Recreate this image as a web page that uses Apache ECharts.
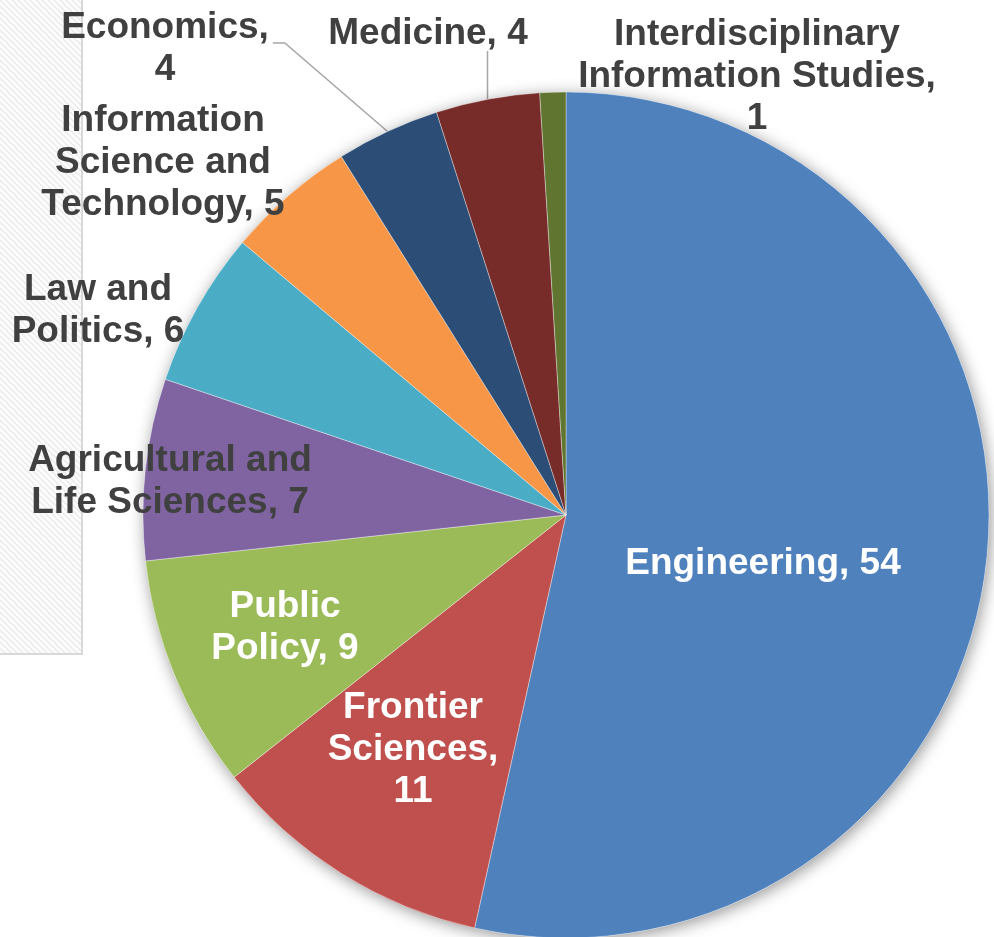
<!DOCTYPE html>
<html>
<head>
<meta charset="utf-8">
<script src="https://cdn.jsdelivr.net/npm/echarts@6/dist/echarts.min.js"></script>
<style>
  html, body { margin: 0; padding: 0; background: #fff; }
  #main { width: 994px; height: 937px; }
</style>
</head>
<body>
<div id="main"></div>
<script>
// ---- data ----
const categories = ['Engineering', 'Frontier Sciences', 'Public Policy', 'Agricultural and Life Sciences',
  'Law and Politics', 'Information Science and Technology', 'Economics', 'Medicine',
  'Interdisciplinary Information Studies'];
const values = [54, 11, 9, 7, 6, 5, 4, 4, 1];
const colors = ['#4F81BD', '#C0504D', '#9BBB59', '#8064A2', '#4BACC6', '#F79646', '#2C4D75', '#772C2A', '#5F7530'];
// label text wrapping as shown in the picture
const wrappedNames = ['Engineering', 'Frontier\nSciences', 'Public\nPolicy', 'Agricultural and\nLife Sciences',
  'Law and\nPolitics', 'Information\nScience and\nTechnology', 'Economics', 'Medicine',
  'Interdisciplinary\nInformation Studies'];
const valueSep = [' ', '\n', ' ', ' ', ' ', ' ', '\n', ' ', '\n'];
const insideLabel = [true, true, true, false, false, false, false, false, false];

// ---- layout (label placement) ----
const labelCenters = [[763, 564], [413, 750], [285, 628], [170, 482], [98, 311], [163, 163], [165, 49], [428, 34], [757, 77]];
const leaderType = [null, null, null, null, null, null, 'elbow', 'vertical', null];

// hatch pattern for background panel
const tile = document.createElement('canvas');
tile.width = 6; tile.height = 6;
(function () {
  const ctx = tile.getContext('2d');
  ctx.fillStyle = '#fdfdfd';
  ctx.fillRect(0, 0, 6, 6);
  ctx.strokeStyle = '#ececec';
  ctx.lineWidth = 1.6;
  ctx.beginPath();
  ctx.moveTo(-3, -3); ctx.lineTo(9, 9);
  ctx.moveTo(-3, 3); ctx.lineTo(3, 9);
  ctx.moveTo(3, -3); ctx.lineTo(9, 3);
  ctx.stroke();
})();

const chart = echarts.init(document.getElementById('main'), null, { renderer: 'canvas' });

const pieData = categories.map((name, i) => ({
  name: name,
  value: values[i],
  itemStyle: { color: colors[i] },
  label: { color: insideLabel[i] ? '#ffffff' : '#404040' },
  labelLine: { show: leaderType[i] !== null }
}));

const option = {
  backgroundColor: '#ffffff',
  animation: false,
  graphic: [{
    type: 'rect',
    z: -10,
    silent: true,
    shape: { x: -2, y: -2, width: 84, height: 656 },
    style: { fill: { image: tile, repeat: 'repeat' }, stroke: '#d9d9d9', lineWidth: 2 }
  }],
  series: [
    {
      type: 'pie',
      silent: true,
      center: [566, 515],
      radius: 423,
      startAngle: 90,
      data: [{ value: 1, itemStyle: { color: '#ffffff' } }],
      label: { show: false },
      labelLine: { show: false },
      itemStyle: { shadowBlur: 16, shadowColor: 'rgba(0,0,0,0.42)', shadowOffsetX: 2, shadowOffsetY: 3 },
      emphasis: { disabled: true }
    },
    {
      type: 'pie',
      center: [566, 515],
      radius: 423,
      startAngle: 90,
      clockwise: true,
      avoidLabelOverlap: false,
      silent: true,
      emphasis: { disabled: true },
      itemStyle: { borderColor: 'rgba(255,255,255,0.6)', borderWidth: 0.6 },
      label: {
        show: true,
        position: 'outside',
        fontFamily: 'Liberation Sans, Arial, sans-serif',
        fontWeight: 'bold',
        fontSize: 37,
        lineHeight: 42,
        align: 'center',
        formatter: p => wrappedNames[p.dataIndex] + ',' + valueSep[p.dataIndex] + p.value
      },
      labelLine: { show: false, lineStyle: { color: '#a6a6a6', width: 1.5 } },
      labelLayout: function (params) {
        const i = params.dataIndex;
        const c = labelCenters[i];
        const res = { x: c[0], y: c[1], align: 'center', verticalAlign: 'middle' };
        const lp = params.labelLinePoints;
        if (lp && leaderType[i] === 'elbow') {
          const right = c[0] + params.labelRect.width / 2 + 4;
          res.labelLinePoints = [lp[0], [right + 12, c[1] - 6], [right, c[1] - 6]];
        } else if (lp && leaderType[i] === 'vertical') {
          const bottom = c[1] + params.labelRect.height / 2 - 4;
          res.labelLinePoints = [lp[0], [lp[0][0], bottom], [lp[0][0], bottom]];
        }
        return res;
      },
      data: pieData
    }
  ]
};
chart.setOption(option);
</script>
</body>
</html>
